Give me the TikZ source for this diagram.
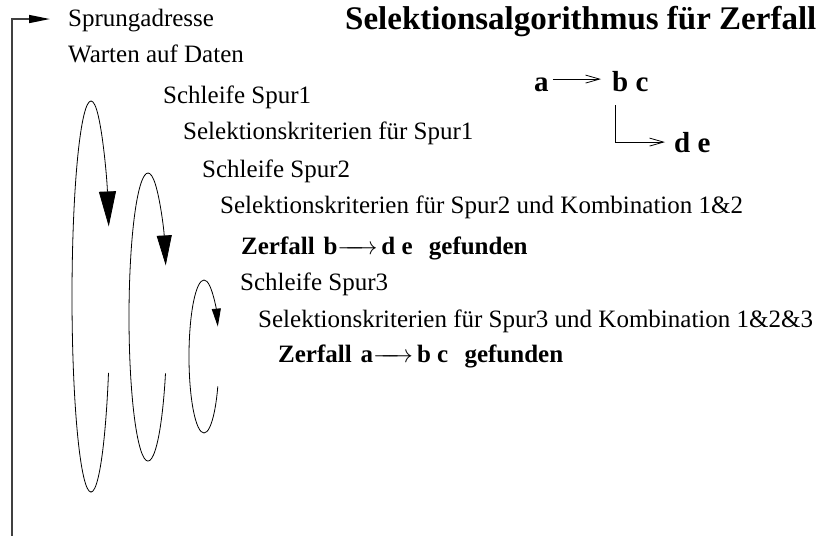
\documentclass[tikz,border=0pt]{standalone}
\usepackage{fontspec}
\setmainfont{Liberation Serif}
\usepackage{tikz}
\usetikzlibrary{
  arrows.meta,
  positioning,
  calc
}
\newcommand{\decayarrow}{\makebox[40pt]{\rightarrowfill}}
\tikzset{
  % Plain step of the algorithm
  stp/.style={anchor=base west, inner sep=0pt, font=\fontsize{25}{30}\selectfont},
  % Decay found (bold line)
  hit/.style={anchor=base west, inner sep=0pt, font=\fontsize{25}{30}\selectfont\bfseries},
  % Headline
  ttl/.style={anchor=base west, inner sep=0pt, font=\fontsize{33}{40}\selectfont\bfseries},
  % Particles of the decay sketch
  ptc/.style={anchor=base west, inner sep=2pt, font=\fontsize{29}{34}\selectfont\bfseries},
  % Loop with filled head
  lp/.style 2 args={line width=0.8pt, -{Triangle[length=#1, width=#2]}},
  % Decay arrow
  dk/.style={line width=0.8pt, -{Straight Barb[length=14pt, width=8pt]}},
  % Jump back to the start
  jmp/.style={line width=1.3pt, draw=black!75, -{Triangle[length=21pt, width=8pt, color=black]}}
}

\begin{document}
\begin{tikzpicture}[x=1pt, y=-1pt]
  \useasboundingbox (0,0) rectangle (818,535);

  % Headline and decay sketch
  \node[ttl] (title) at (345,30) {Selektionsalgorithmus für Zerfall};
  \node[ptc] (pa)  at (532,91)  {a};
  \node[ptc] (pbc) at (610,91)  {b c};
  \node[ptc] (pde) at (672,152) {d e};
  \draw[dk, shorten <=2pt, shorten >=9pt] ([yshift=2pt]pa.east |- pbc.west) -- ([yshift=2pt]pbc.west);
  \draw[dk, shorten <=12pt, shorten >=7pt] ([xshift=5pt]pbc.south west) |- (pde.west);

  % Steps
  \node[stp] (sprung) at (68,27)  {Sprungadresse};
  \node[stp] (warten) at (68,63)  {Warten auf Daten};
  \node[stp] (loopA)  at (163,103) {Schleife Spur1};
  \node[stp] (critA)  at (183,139) {Selektionskriterien für Spur1};
  \node[stp] (loopB)  at (202,177) {Schleife Spur2};
  \node[stp] (critB)  at (220,213) {Selektionskriterien für Spur2 und Kombination 1\&2};
  \node[hit] (foundB) at (241,254) {Zerfall\hspace{0.35em}b\decayarrow\hspace{4pt}d e\hspace{0.65em}gefunden};
  \node[stp] (loopC)  at (240,290) {Schleife Spur3};
  \node[stp] (critC)  at (258,327) {Selektionskriterien für Spur3 und Kombination 1\&2\&3};
  \node[hit] (foundA) at (278,362) {Zerfall\hspace{0.35em}a\decayarrow\hspace{4pt}b c\hspace{0.65em}gefunden};

  % Loops
  \coordinate (loopA0) at (108.5,372.9);
  \coordinate (loopB0) at (165.5,373.3);
  \coordinate (loopC0) at (217.8,386.4);
  \draw[lp={35pt}{17pt}] (loopA0) arc[start angle=23, end angle=339, x radius=19, y radius=195.5];
  \draw[lp={30pt}{15pt}] (loopB0) arc[start angle=23, end angle=339, x radius=19, y radius=144];
  \draw[lp={18pt}{9pt}]  (loopC0) arc[start angle=23, end angle=337, x radius=15, y radius=76.5];

  % Jump back
  \coordinate (jfoot) at (12,536);
  \draw[jmp, shorten >=18pt] (jfoot) |- ([yshift=2pt]sprung.west);
\end{tikzpicture}
\end{document}
